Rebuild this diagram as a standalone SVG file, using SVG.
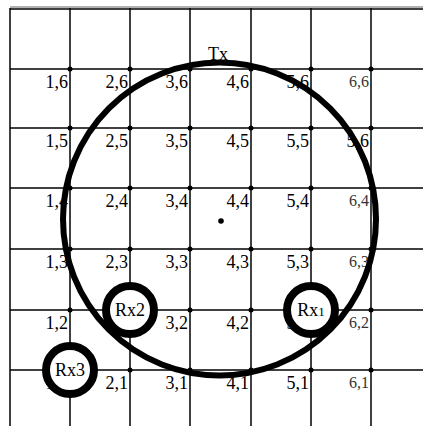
<svg xmlns="http://www.w3.org/2000/svg" width="423" height="426" viewBox="0 0 423 426">
<style>
.g{stroke:#000;stroke-width:1.5;fill:none}
text{font-family:"Liberation Serif","Times New Roman",serif}
.lb{font-size:18px;fill:#000;text-anchor:end}
.lb6{font-size:16px;fill:#333;text-anchor:end}
.rx{font-size:18px;fill:#000;text-anchor:middle}
.ring{fill:#fff;stroke:#000;stroke-width:8}
</style>
<defs><circle id="d" r="2.5" fill="#000"/></defs>
<rect width="423" height="426" fill="#fff"/>
<g id="grid">
<line x1="10" y1="7" x2="423" y2="7" stroke="#999" stroke-width="1.5"/>
<line class="g" x1="10" y1="9" x2="423" y2="9"/>
<line class="g" x1="10" y1="69" x2="423" y2="69"/>
<line class="g" x1="10" y1="128" x2="423" y2="128"/>
<line class="g" x1="10" y1="188" x2="423" y2="188"/>
<line class="g" x1="10" y1="249" x2="423" y2="249"/>
<line class="g" x1="10" y1="310" x2="423" y2="310"/>
<line class="g" x1="10" y1="370" x2="423" y2="370"/>
<line class="g" x1="10" y1="8" x2="10" y2="426"/>
<line class="g" x1="70" y1="8" x2="70" y2="426"/>
<line class="g" x1="130" y1="8" x2="130" y2="426"/>
<line class="g" x1="190" y1="8" x2="190" y2="426"/>
<line class="g" x1="251" y1="8" x2="251" y2="426"/>
<line class="g" x1="311" y1="8" x2="311" y2="426"/>
<line class="g" x1="371" y1="8" x2="371" y2="426"/>
</g>
<g id="dots">
<use href="#d" x="70" y="69"/><use href="#d" x="130" y="69"/><use href="#d" x="190" y="69"/><use href="#d" x="251" y="69"/><use href="#d" x="311" y="69"/><use href="#d" x="371" y="69"/>
<use href="#d" x="70" y="128"/><use href="#d" x="130" y="128"/><use href="#d" x="190" y="128"/><use href="#d" x="251" y="128"/><use href="#d" x="311" y="128"/><use href="#d" x="371" y="128"/>
<use href="#d" x="70" y="188"/><use href="#d" x="130" y="188"/><use href="#d" x="190" y="188"/><use href="#d" x="251" y="188"/><use href="#d" x="311" y="188"/><use href="#d" x="371" y="188"/>
<use href="#d" x="70" y="249"/><use href="#d" x="130" y="249"/><use href="#d" x="190" y="249"/><use href="#d" x="251" y="249"/><use href="#d" x="311" y="249"/><use href="#d" x="371" y="249"/>
<use href="#d" x="70" y="310"/><use href="#d" x="130" y="310"/><use href="#d" x="190" y="310"/><use href="#d" x="251" y="310"/><use href="#d" x="311" y="310"/><use href="#d" x="371" y="310"/>
<use href="#d" x="70" y="370"/><use href="#d" x="130" y="370"/><use href="#d" x="190" y="370"/><use href="#d" x="251" y="370"/><use href="#d" x="311" y="370"/><use href="#d" x="371" y="370"/>
<circle cx="221" cy="221" r="2.8" fill="#000"/>
</g>
<g id="labels">
<text class="lb" x="68" y="88">1,6</text><text class="lb" x="128" y="88">2,6</text><text class="lb" x="188" y="88">3,6</text><text class="lb" x="249" y="88">4,6</text><text class="lb" x="309" y="88">5,6</text><text class="lb6" x="369" y="87">6,6</text>
<text class="lb" x="68" y="147">1,5</text><text class="lb" x="128" y="147">2,5</text><text class="lb" x="188" y="147">3,5</text><text class="lb" x="249" y="147">4,5</text><text class="lb" x="309" y="147">5,5</text><text class="lb" x="369" y="147">5,6</text>
<text class="lb" x="68" y="207">1,4</text><text class="lb" x="128" y="207">2,4</text><text class="lb" x="188" y="207">3,4</text><text class="lb" x="249" y="207">4,4</text><text class="lb" x="309" y="207">5,4</text><text class="lb6" x="369" y="206">6,4</text>
<text class="lb" x="68" y="268">1,3</text><text class="lb" x="128" y="268">2,3</text><text class="lb" x="188" y="268">3,3</text><text class="lb" x="249" y="268">4,3</text><text class="lb" x="309" y="268">5,3</text><text class="lb6" x="369" y="267">6,3</text>
<text class="lb" x="68" y="329">1,2</text><text class="lb" x="188" y="329">3,2</text><text class="lb" x="249" y="329">4,2</text><text class="lb" x="309" y="329">5,2</text><text class="lb6" x="369" y="328">6,2</text>
<text class="lb" x="68" y="389">1,1</text><text class="lb" x="128" y="389">2,1</text><text class="lb" x="188" y="389">3,1</text><text class="lb" x="249" y="389">4,1</text><text class="lb" x="309" y="389">5,1</text><text class="lb6" x="369" y="388">6,1</text>
</g>
<g id="tx">
<circle cx="219.5" cy="219" r="156.5" fill="none" stroke="#000" stroke-width="6"/>
<text class="rx" x="218" y="60">Tx</text>
</g>
<g id="rx1">
<circle class="ring" cx="311" cy="310" r="24"/>
<text class="rx" x="311" y="316">Rx<tspan font-size="13">1</tspan></text>
</g>
<g id="rx2">
<circle class="ring" cx="130" cy="310" r="24"/>
<text class="rx" x="130" y="316">Rx2</text>
</g>
<g id="rx3">
<circle class="ring" cx="70" cy="370" r="24"/>
<text class="rx" x="70" y="376">Rx3</text>
</g>
</svg>
